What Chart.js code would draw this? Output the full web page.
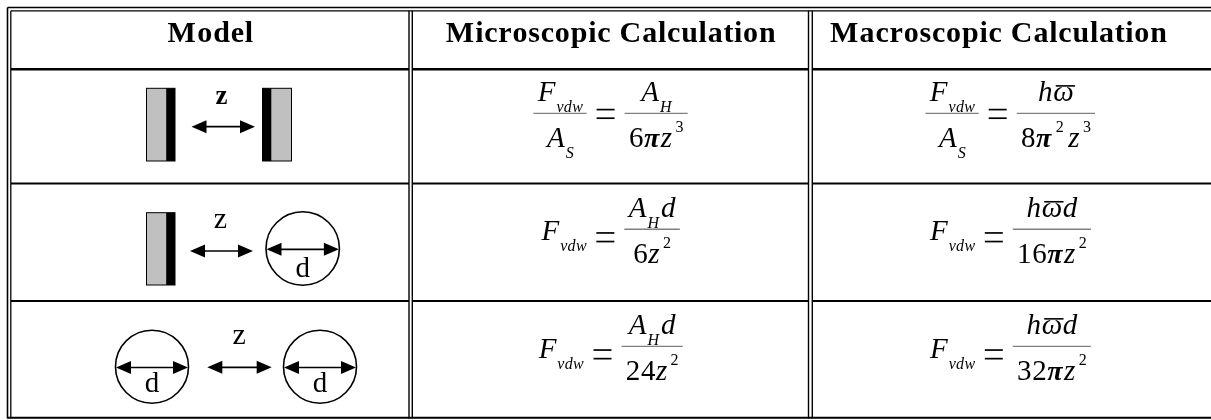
<!DOCTYPE html>
<html><head><meta charset="utf-8">
<style>html,body{margin:0;padding:0;background:#fff;} #wrap{width:1211px;height:420px;}</style>
<script src="https://cdn.jsdelivr.net/npm/chart.js@4.4.1/dist/chart.umd.min.js"></script>
</head><body><div id="wrap"><canvas id="c" width="1211" height="420"></canvas></div>
<script>
// ---------------- data ----------------
const columnHeaders = ['Model', 'Microscopic Calculation', 'Macroscopic Calculation'];
const modelTypes = ['plate-plate', 'plate-sphere', 'sphere-sphere'];
const separationLabels = ['z', 'z', 'z'];
const diameterLabel = 'd';
const forceSymbol = [['F', 'i'], ['vdw', 'sub']];
const areaSymbol = [['A', 'i'], ['S', 'sub']];
const perAreaRows = [true, false, false];
const microNumerators = [
  [['A', 'i'], ['H', 'sub']],
  [['A', 'i'], ['H', 'sub'], ['d', 'i']],
  [['A', 'i'], ['H', 'sub'], ['d', 'i']]
];
const microDenominators = [
  [['6', 'r'], ['π', 'pi'], ['z', 'i'], ['3', 'sup']],
  [['6', 'r'], ['z', 'i'], ['2', 'sup']],
  [['24', 'r'], ['z', 'i'], ['2', 'sup']]
];
const macroNumerators = [
  [['h', 'i'], ['ω', 'bar']],
  [['h', 'i'], ['ω', 'bar'], ['d', 'i']],
  [['h', 'i'], ['ω', 'bar'], ['d', 'i']]
];
const macroDenominators = [
  [['8', 'r'], ['π', 'pi'], ['2', 'sup'], ['z', 'i'], ['3', 'sup']],
  [['16', 'r'], ['π', 'pi'], ['z', 'i'], ['2', 'sup']],
  [['32', 'r'], ['π', 'pi'], ['z', 'i'], ['2', 'sup']]
];

// ---------------- layout (table units) ----------------
const FF = '"Liberation Serif"';
const FONTS = {
  i: 'italic 29px ' + FF, r: '29px ' + FF, sub: 'italic 16px ' + FF,
  sup: '16px ' + FF, pi: 'italic bold 28px ' + FF, bar: 'italic 29px ' + FF
};
const SX = 1.04;
const colBounds = [[11, 409], [412.5, 808.5], [812.5, 1208]];
const headerShift = [0, 0, -12];
const rowBounds = [11, 69.3, 183.5, 301, 417.7];

const tablePlugin = {
  id: 'tableDraw',
  afterDraw(chart) {
    const ctx = chart.ctx;
    const sx = chart.scales.x, sy = chart.scales.y;
    const X = v => sx.getPixelForValue(v);
    const Y = v => sy.getPixelForValue(v);
    const right = sx.max;

    function line(x0, y0, x1, y1, w, col) {
      ctx.save(); ctx.strokeStyle = col || '#000'; ctx.lineWidth = w;
      ctx.beginPath(); ctx.moveTo(X(x0), Y(y0)); ctx.lineTo(X(x1), Y(y1)); ctx.stroke(); ctx.restore();
    }
    function strW(s, font, st) {
      ctx.font = font;
      let w = 0;
      for (const ch of s) w += ctx.measureText(ch).width * st;
      return w;
    }
    function text(s, font, x, y, align, stretch) {
      const st = stretch || SX;
      const w = strW(s, font, st);
      let px = X(x);
      if (align === 'center') px -= w / 2;
      ctx.save(); ctx.font = font; ctx.fillStyle = '#000'; ctx.textBaseline = 'alphabetic'; ctx.textAlign = 'left';
      for (const ch of s) {
        const cw = ctx.measureText(ch).width;
        ctx.fillText(ch, px + cw * (st - 1) / 2, Y(y));
        px += cw * st;
      }
      ctx.restore();
    }
    // ---- rules ----
    line(7.5, 7.5, right, 7.5, 1.6);
    line(11, 10.8, right, 10.8, 1.3);
    line(7.5, 7.5, 7.5, 418.5, 1.6);
    line(10.8, 10.8, 10.8, 418.5, 1.3);
    line(7.5, 417.7, right, 417.7, 2);
    [[409, 412.3], [808.5, 812.3]].forEach(p => {
      line(p[0], 10.8, p[0], 418.5, 1.4);
      line(p[1], 10.8, p[1], 418.5, 1.4);
    });
    const rowW = [2.6, 2, 2];
    for (let r = 1; r <= 3; r++) {
      colBounds.forEach(c => line(c[0], rowBounds[r], c[1] === 1208 ? right : c[1], rowBounds[r], rowW[r - 1]));
    }
    // ---- headers ----
    columnHeaders.forEach((h, i) => {
      const c = colBounds[i];
      text(h, 'bold 30px ' + FF, (c[0] + c[1]) / 2 + headerShift[i], 41.7, 'center', 1.06);
    });

    // ---- model drawings ----
    function plate(x0, x1, y0, y1, stripLeft) {
      ctx.save();
      ctx.fillStyle = '#c0c0c0';
      ctx.fillRect(X(x0), Y(y0), X(x1) - X(x0), Y(y1) - Y(y0));
      ctx.fillStyle = '#000';
      const sw = 8.8;
      if (stripLeft) ctx.fillRect(X(x0), Y(y0), X(x0 + sw) - X(x0), Y(y1) - Y(y0));
      else ctx.fillRect(X(x1 - sw), Y(y0), X(x1) - X(x1 - sw), Y(y1) - Y(y0));
      ctx.strokeStyle = '#000'; ctx.lineWidth = 1;
      ctx.strokeRect(X(x0), Y(y0), X(x1) - X(x0), Y(y1) - Y(y0));
      ctx.restore();
    }
    function arrow(x0, x1, y) {
      const hl = 15, hh = 6.5;
      line(x0 + hl - 1, y, x1 - hl + 1, y, 1.7);
      ctx.save(); ctx.fillStyle = '#000';
      ctx.beginPath(); ctx.moveTo(X(x0), Y(y)); ctx.lineTo(X(x0 + hl), Y(y - hh)); ctx.lineTo(X(x0 + hl), Y(y + hh)); ctx.closePath(); ctx.fill();
      ctx.beginPath(); ctx.moveTo(X(x1), Y(y)); ctx.lineTo(X(x1 - hl), Y(y - hh)); ctx.lineTo(X(x1 - hl), Y(y + hh)); ctx.closePath(); ctx.fill();
      ctx.restore();
    }
    function sphere(cx, cy, r, dBase) {
      ctx.save(); ctx.strokeStyle = '#000'; ctx.lineWidth = 1.6;
      ctx.beginPath(); ctx.arc(X(cx), Y(cy), X(cx + r) - X(cx), 0, Math.PI * 2); ctx.stroke(); ctx.restore();
      arrow(cx - r + 0.5, cx + r - 0.5, cy + 0.8);
      text(diameterLabel, '29px ' + FF, cx, dBase, 'center', 1);
    }
    function sep(row, cx, base) {
      const lbl = separationLabels[row];
      text(lbl, row === 0 ? 'bold 27px ' + FF : '30px ' + FF, cx, base, 'center', 1);
    }
    modelTypes.forEach((m, row) => {
      if (m === 'plate-plate') {
        plate(146.5, 175, 88.3, 161, false);
        plate(262.5, 291.5, 88.3, 161, true);
        arrow(191.5, 255, 126.7);
        sep(row, 221.5, 104);
      } else if (m === 'plate-sphere') {
        plate(146.5, 175, 212.7, 285, false);
        arrow(190, 253, 251);
        sep(row, 220.5, 228);
        sphere(302.7, 248.5, 36.7, 276.5);
      } else {
        sphere(152, 366.7, 36.5, 391.5);
        arrow(207.3, 271.7, 367.3);
        sep(row, 239.2, 344);
        sphere(320, 366.7, 36.5, 391.5);
      }
    });

    // ---- formulas ----
    function tokW(t, i, toks) {
      let w = strW(t[0], FONTS[t[1]], SX);
      if (t[1] === 'sup') { w += 3; if (i < toks.length - 1) w += 4; }
      if (t[1] === 'sub' && i < toks.length - 1) w += 2;
      if (t[1] === 'pi') w += 1;
      return w;
    }
    function runW(toks) { return toks.reduce((a, t, i) => a + tokW(t, i, toks), 0); }
    function drawRun(toks, x, base) {
      toks.forEach((t, i) => {
        const k = t[1];
        const w = tokW(t, i, toks);
        if (k === 'sub') text(t[0], FONTS.sub, x + 0.5, base + 11);
        else if (k === 'sup') text(t[0], FONTS.sup, x + 3, base - 14.5);
        else if (k === 'bar') {
          text(t[0], FONTS.bar, x, base);
          line(x + 3, base - 15.5, x + w + 1, base - 15.5, 1.6);
        } else text(t[0], FONTS[k], x, base);
        x += w;
      });
    }
    function fracW(num, den) { return Math.max(runW(num), runW(den)) + 8; }
    function drawFrac(num, den, x, barY) {
      const wn = runW(num), wd = runW(den), w = fracW(num, den);
      line(x, barY, x + w, barY, 1.4, '#808080');
      drawRun(num, x + (w - wn) / 2, barY - 12);
      drawRun(den, x + (w - wd) / 2, barY + 33.5);
    }
    function equals(x, cy) {
      line(x, cy - 4.3, x + 18, cy - 4.3, 1.7);
      line(x, cy + 4.3, x + 18, cy + 4.3, 1.7);
    }
    function formula(row, col, num, den) {
      const c = colBounds[col];
      const cx = (c[0] + c[1]) / 2;
      const barY = (rowBounds[row + 1] + rowBounds[row + 2]) / 2 - 13;
      const per = perAreaRows[row];
      const lw = per ? fracW(forceSymbol, areaSymbol) : runW(forceSymbol);
      const rw = fracW(num, den);
      const total = lw + 10 + 18 + 10 + rw;
      let x = cx - total / 2;
      if (per) { drawFrac(forceSymbol, areaSymbol, x, barY); equals(x + lw + 10, barY + 0.5); }
      else { drawRun(forceSymbol, x, barY + 11.2); equals(x + lw + 10, barY + 8); }
      drawFrac(num, den, x + lw + 38, barY);
    }
    for (let r = 0; r < 3; r++) {
      formula(r, 1, microNumerators[r], microDenominators[r]);
      formula(r, 2, macroNumerators[r], macroDenominators[r]);
    }
  }
};

new Chart(document.getElementById('c'), {
  type: 'scatter',
  data: { datasets: [] },
  options: {
    responsive: false, animation: false, devicePixelRatio: 1,
    layout: { padding: 0 },
    plugins: { legend: { display: false }, tooltip: { enabled: false } },
    scales: {
      x: { type: 'linear', min: 0, max: 1211, display: false },
      y: { type: 'linear', min: 0, max: 420, reverse: true, display: false }
    }
  },
  plugins: [tablePlugin]
});
</script>
</body></html>
